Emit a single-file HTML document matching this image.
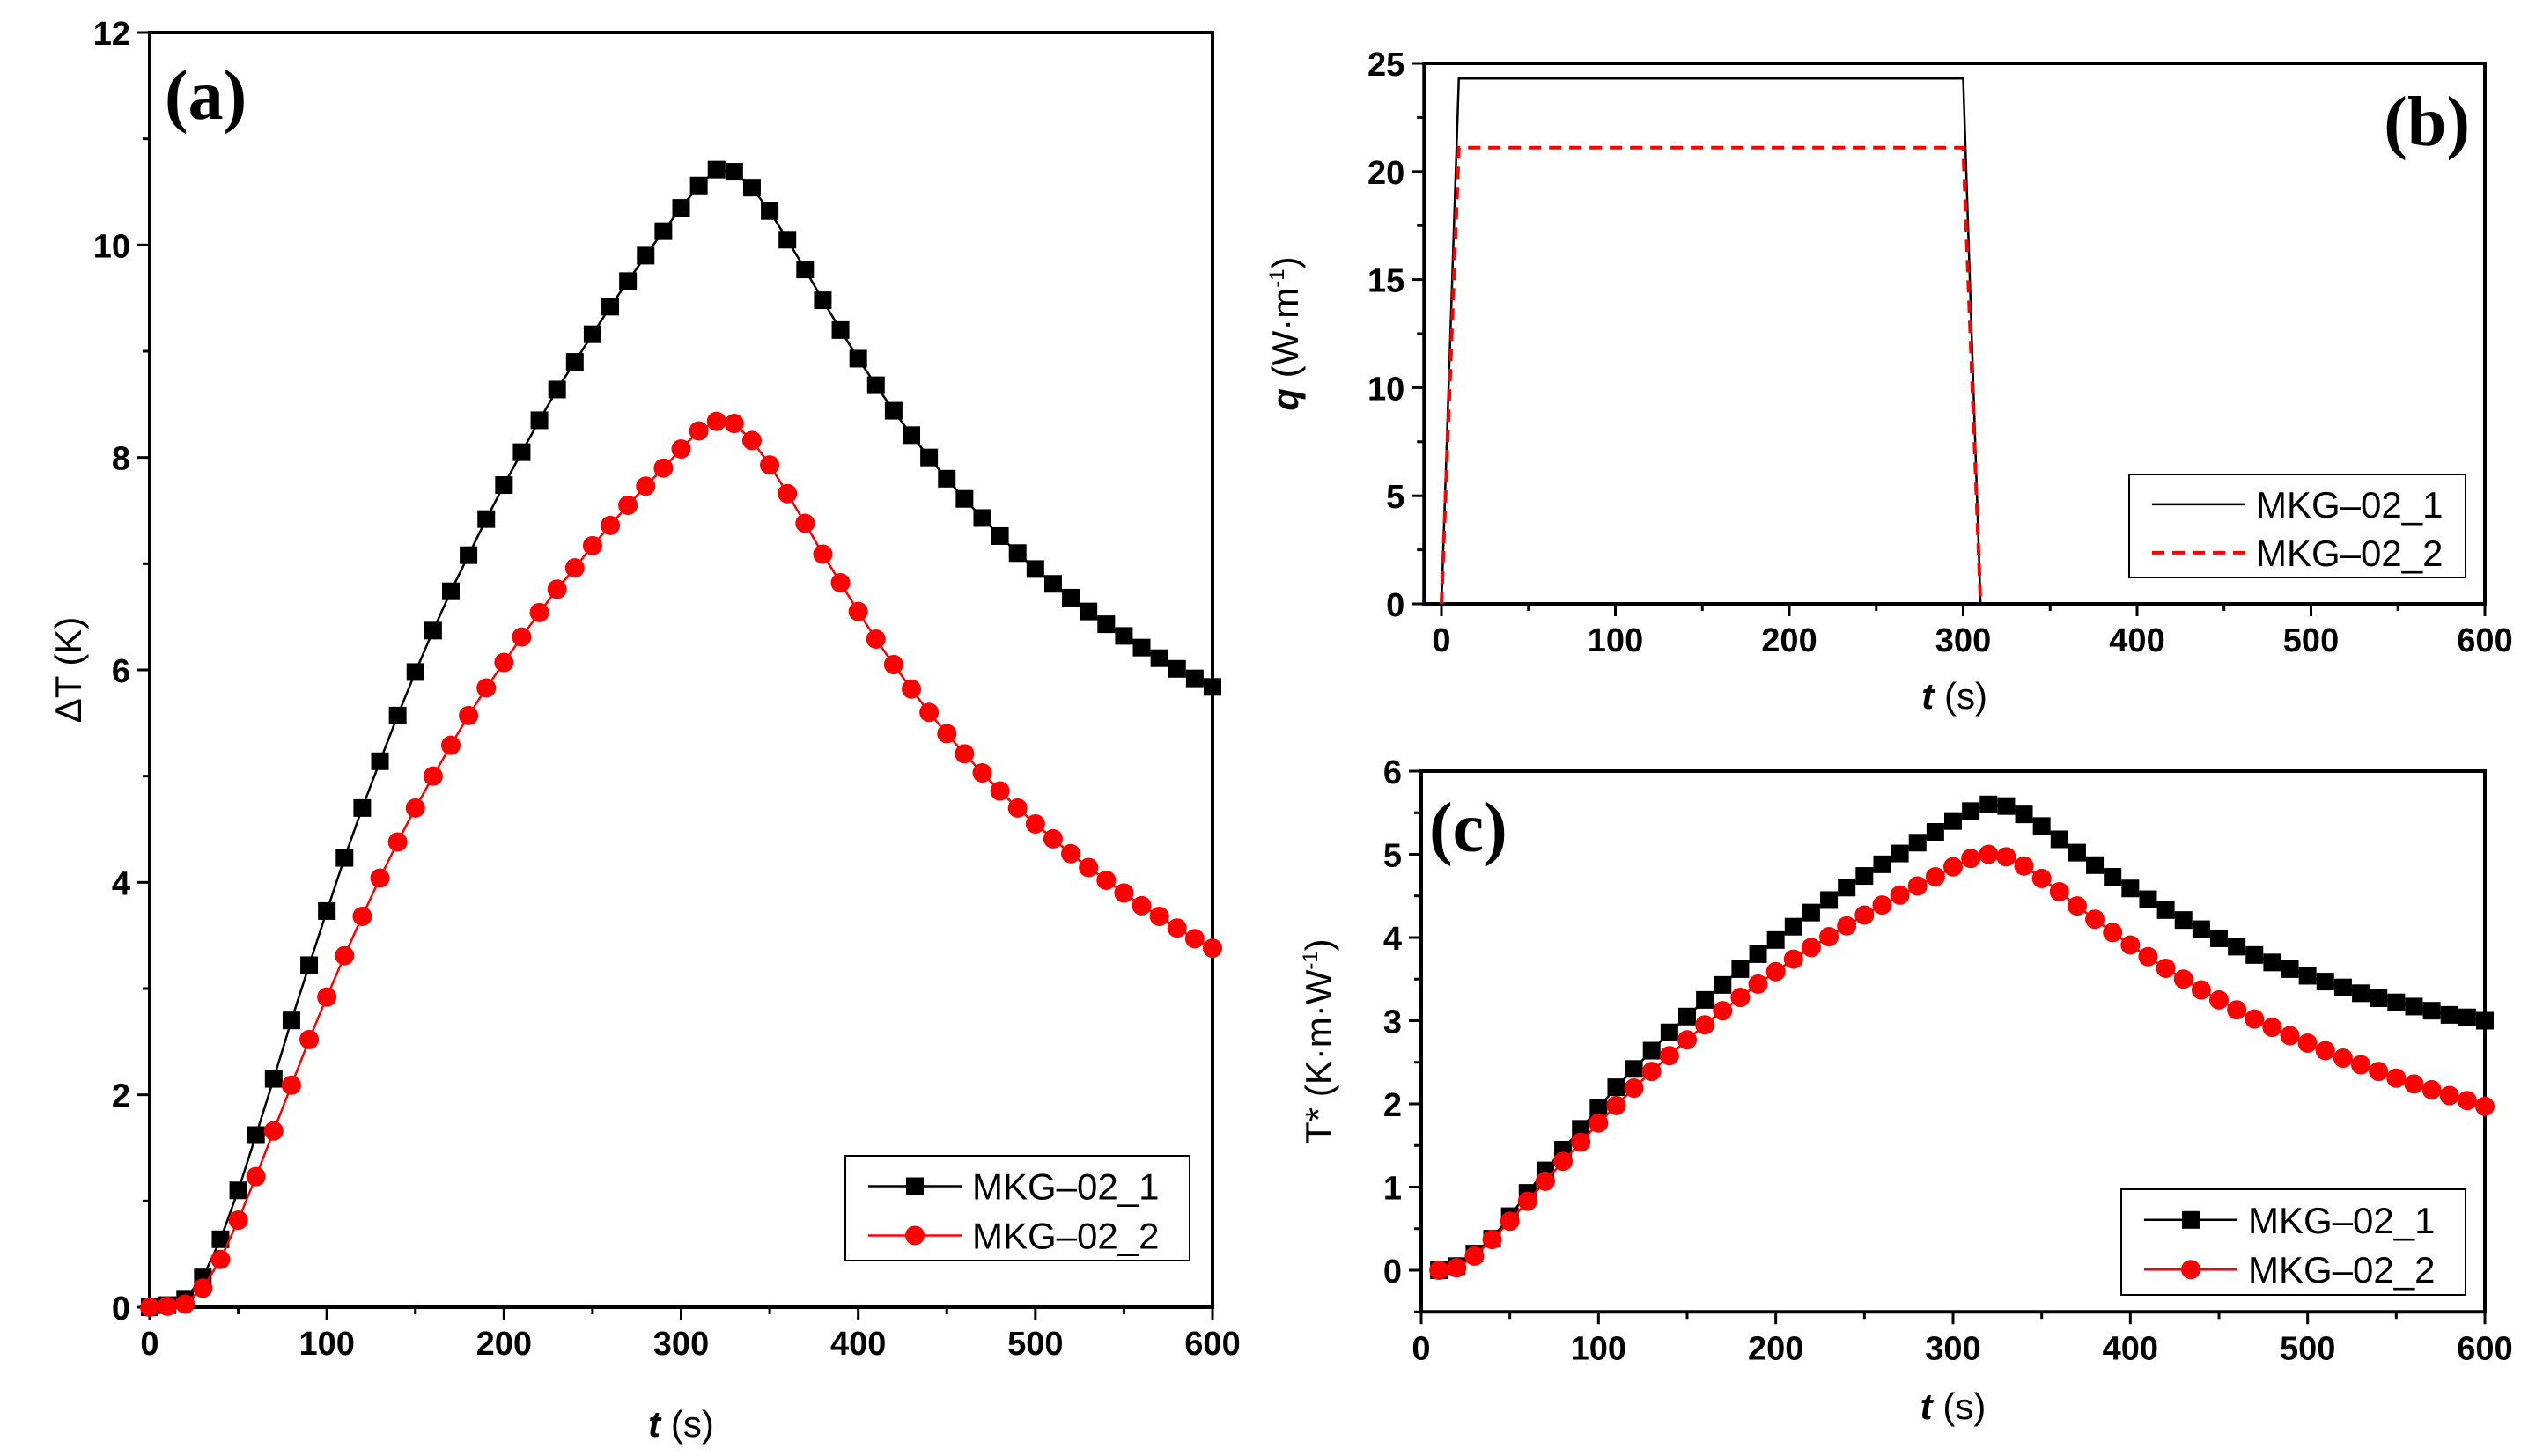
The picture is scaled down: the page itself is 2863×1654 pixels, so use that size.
<!DOCTYPE html>
<html><head><meta charset="utf-8"><style>
body{margin:0;background:#fff}
svg{display:block;font-family:"Liberation Sans",sans-serif}
.tk{font-size:38px;font-weight:bold}
.at{font-size:42px}
.pl{font-family:"Liberation Serif",serif;font-weight:bold;font-size:80px}
.lg{font-size:42px}
</style></head><body>
<svg id="s" width="2863" height="1654" viewBox="0 0 2863 1654" xmlns="http://www.w3.org/2000/svg"></svg>
<script>
const times = [0,10,20,30,40,50,60,70,80,90,100,110,120,130,140,150,160,170,180,190,200,210,220,230,240,250,260,270,280,290,300,310,320,330,340,350,360,370,380,390,400,410,420,430,440,450,460,470,480,490,500,510,520,530,540,550,560,570,580,590,600];
const dT1 = [0,0.02,0.08,0.28,0.64,1.1,1.62,2.15,2.7,3.22,3.73,4.23,4.7,5.14,5.57,5.98,6.37,6.74,7.08,7.42,7.74,8.05,8.35,8.64,8.9,9.16,9.42,9.66,9.9,10.13,10.35,10.56,10.71,10.69,10.54,10.32,10.05,9.77,9.48,9.2,8.93,8.68,8.44,8.21,8.0,7.8,7.61,7.43,7.26,7.1,6.95,6.81,6.68,6.55,6.43,6.32,6.21,6.11,6.01,5.92,5.84];
const dT2 = [0,0.01,0.03,0.18,0.45,0.82,1.23,1.66,2.09,2.52,2.92,3.31,3.68,4.04,4.38,4.7,5.0,5.29,5.57,5.83,6.07,6.31,6.54,6.76,6.96,7.17,7.36,7.55,7.73,7.9,8.08,8.25,8.34,8.32,8.16,7.93,7.66,7.38,7.09,6.82,6.55,6.29,6.05,5.82,5.6,5.4,5.21,5.03,4.86,4.7,4.55,4.41,4.27,4.14,4.02,3.9,3.78,3.68,3.57,3.47,3.38];
const qT = [0,10,300,310];
const q1 = [0,24.3,24.3,0];
const q2 = [0,21.1,21.1,0];
const timesC = times.slice(1);
const ts1 = [0,0.05,0.2,0.38,0.65,0.93,1.2,1.45,1.7,1.95,2.2,2.42,2.64,2.86,3.05,3.25,3.43,3.62,3.8,3.97,4.13,4.3,4.45,4.6,4.74,4.88,5.01,5.14,5.27,5.4,5.52,5.6,5.58,5.48,5.34,5.18,5.02,4.87,4.73,4.59,4.46,4.33,4.21,4.1,3.99,3.89,3.79,3.7,3.62,3.54,3.47,3.4,3.33,3.27,3.22,3.17,3.12,3.07,3.04,3.0];
const ts2 = [0,0.03,0.17,0.37,0.59,0.83,1.07,1.31,1.54,1.77,1.98,2.19,2.39,2.58,2.77,2.95,3.12,3.28,3.44,3.59,3.74,3.88,4.01,4.14,4.27,4.39,4.51,4.62,4.73,4.85,4.95,5.0,4.97,4.86,4.71,4.55,4.38,4.22,4.06,3.91,3.77,3.63,3.5,3.37,3.25,3.13,3.02,2.92,2.82,2.73,2.64,2.55,2.47,2.39,2.31,2.24,2.17,2.1,2.04,1.97];
const xTicks = [0,100,200,300,400,500,600];
const yTicksA = [0,2,4,6,8,10,12];
const yTicksB = [0,5,10,15,20,25];
const yTicksC = [0,1,2,3,4,5,6];

const S=document.getElementById('s'),NS='http://www.w3.org/2000/svg';
function mk(t,a,p){const e=document.createElementNS(NS,t);for(const k in a)e.setAttribute(k,a[k]);(p||S).appendChild(e);return e;}
function panel(o){
  const g=mk('g',{});
  
  
  const X=v=>o.x0+(v-o.xa)/(o.xb-o.xa)*(o.x1-o.x0);
  const Y=v=>o.y0+(v-o.ya)/(o.yb-o.ya)*(o.y1-o.y0);
  o.X=X;o.Y=Y;
  const L=X(o.xmin),R=X(o.xb),T=Y(o.ymax),B=Y(o.ymin);
  const box=mk('rect',{x:L,y:T,width:R-L,height:B-T,fill:'none',stroke:'#000','stroke-width':4},g);
  
  
  for(let v=0;v<=600;v+=50){const maj=v%100==0;mk('line',{x1:X(v),x2:X(v),y1:B,y2:B+(maj?14:8),stroke:'#000','stroke-width':3},g);}
  xTicks.forEach(v=>{const t=mk('text',{x:X(v),y:B+54,'text-anchor':'middle',class:'tk'},g);t.textContent=v;
    
    });
  for(let v=o.ymin<0?-o.ystep/2:0;v<=o.ymax+1e-9;v+=o.ystep/2){const maj=Math.abs(v/o.ystep-Math.round(v/o.ystep))<1e-6;mk('line',{x1:L,x2:L-(maj?14:8),y1:Y(v),y2:Y(v),stroke:'#000','stroke-width':3},g);}
  o.yt.forEach(v=>{const t=mk('text',{x:L-22,y:Y(v)+14,'text-anchor':'end',class:'tk'},g);t.textContent=v;
    
    });
  const xt=mk('text',{x:(L+R)/2,y:o.xty,'text-anchor':'middle',class:'at'},g);
  xt.innerHTML='<tspan font-weight="bold" font-style="italic">t</tspan> (s)';
  
  
  const yt=mk('text',{x:0,y:0,'text-anchor':'middle',class:'at',transform:`translate(${o.ytx},${(T+B)/2}) rotate(-90)`},g);
  yt.innerHTML=o.ytitle;
  
  
  const pl=mk('text',{x:o.plx,y:o.ply,'text-anchor':o.pla||'start',class:'pl'},g);pl.textContent=o.label;
  
  
  return g;
}
function series(o,g,xs,ys,color,marker,dash,name){
  const sg=mk('g',{},g);
  
  
  mk('polyline',{points:xs.map((x,i)=>o.X(x)+','+o.Y(ys[i])).join(' '),fill:'none',stroke:color,'stroke-width':dash?4:2.5,'stroke-dasharray':dash||'none'},sg);
  if(marker)xs.forEach((x,i)=>{
    let m;
    if(marker=='sq')m=mk('rect',{x:o.X(x)-10,y:o.Y(ys[i])-10,width:20,height:20,fill:color},sg);
    else m=mk('circle',{cx:o.X(x),cy:o.Y(ys[i]),r:11,fill:color},sg);
    
    
  });
}
function legend(g,x,y,w,h,items){
  const lg=mk('g',{},g);
  
  
  mk('rect',{x,y,width:w,height:h,fill:'#fff',stroke:'#000','stroke-width':2},lg);
  items.forEach((it,i)=>{
    const cy=y+h*(i==0?0.29:0.76);
    const e=mk('g',{},lg);
    
    
    mk('line',{x1:x+26,x2:x+132,y1:cy,y2:cy,stroke:it.c,'stroke-width':it.d?4:2.5,'stroke-dasharray':it.d||'none'},e);
    if(it.m=='sq')mk('rect',{x:x+69,y:cy-10,width:20,height:20,fill:it.c},e);
    if(it.m=='ci')mk('circle',{cx:x+79,cy:cy,r:11,fill:it.c},e);
    const t=mk('text',{x:x+144,y:cy+15,class:'lg'},e);t.textContent=it.t;
  });
}
const A={name:'panel-a',x0:170,x1:1377,xa:0,xb:600,xmin:0,y0:1485,y1:37,ya:0,yb:12,ymin:0,ymax:12,ystep:2,yt:yTicksA,xty:1632,ytx:92,ytitle:'ΔT (K)',label:'(a)',plx:187,ply:135};
const gA=panel(A);
series(A,gA,times,dT1,'#000','sq',null,'series-mkg-02-1');
series(A,gA,times,dT2,'#f00','ci',null,'series-mkg-02-2');
legend(gA,960,1313,391,119,[{c:'#000',m:'sq',t:'MKG–02_1'},{c:'#f00',m:'ci',t:'MKG–02_2'}]);
const B={name:'panel-b',x0:1637,x1:2822,xa:0,xb:600,xmin:-10,y0:686,y1:72,ya:0,yb:25,ymin:0,ymax:25,ystep:5,yt:yTicksB,xty:805,ytx:1474,ytitle:'<tspan font-weight="bold" font-style="italic">q</tspan> (W·m<tspan dy="-16" font-size="24">-1</tspan><tspan dy="16">)</tspan>',label:'(b)',plx:2805,ply:165,pla:'end'};
const gB=panel(B);
series(B,gB,qT,q1,'#000',null,null,'series-mkg-02-1');
series(B,gB,qT,q2,'#f00',null,'14 9','series-mkg-02-2');
legend(gB,2418,539,382,117,[{c:'#000',t:'MKG–02_1'},{c:'#f00',d:'14 9',t:'MKG–02_2'}]);
const C={name:'panel-c',x0:1614,x1:2822,xa:0,xb:600,xmin:0,y0:1443,y1:876,ya:0,yb:6,ymin:-0.5,ymax:6,ystep:1,yt:yTicksC,xty:1612,ytx:1512,ytitle:'T* (K·m·W<tspan dy="-16" font-size="24">-1</tspan><tspan dy="16">)</tspan>',label:'(c)',plx:1623,ply:967};
const gC=panel(C);
series(C,gC,timesC,ts1,'#000','sq',null,'series-mkg-02-1');
series(C,gC,timesC,ts2,'#f00','ci',null,'series-mkg-02-2');
legend(gC,2409,1351,391,120,[{c:'#000',m:'sq',t:'MKG–02_1'},{c:'#f00',m:'ci',t:'MKG–02_2'}]);
</script>
</body></html>
